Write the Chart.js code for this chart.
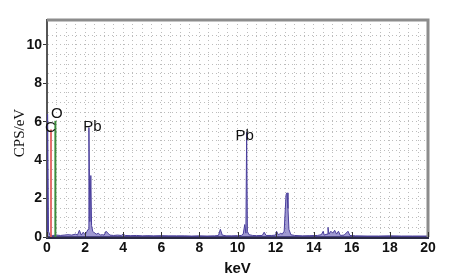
<!DOCTYPE html>
<html>
<head>
<meta charset="utf-8">
<script src="https://cdn.jsdelivr.net/npm/chart.js@4.4.1/dist/chart.umd.min.js"></script>
<style>
  html, body { margin: 0; padding: 0; background: #fff; }
  #wrap { width: 468px; height: 278px; }
</style>
</head>
<body>
<div id="wrap"><canvas id="spectrum" width="468" height="278"></canvas></div>
<script>
// EDS spectrum, keV vs CPS/eV
const energy = [0, 0.03, 0.08, 0.15, 0.3, 0.5, 0.7, 0.9, 1.1, 1.3, 1.5, 1.6, 1.7, 1.8, 1.9, 2.0, 2.1, 2.16, 2.2, 2.25, 2.3, 2.34, 2.4, 2.5, 2.6, 2.7, 2.8, 2.9, 3.0, 3.1, 3.2, 3.3, 3.5, 3.7, 3.9, 4.0, 4.1, 4.4, 4.7, 5.0, 5.3, 5.6, 6.0, 6.4, 6.8, 7.2, 7.6, 8.0, 8.4, 8.8, 9.0, 9.1, 9.2, 9.4, 9.7, 10.0, 10.2, 10.3, 10.38, 10.44, 10.48, 10.52, 10.6, 10.8, 11.0, 11.3, 11.4, 11.5, 11.8, 12.0, 12.05, 12.15, 12.25, 12.35, 12.45, 12.5, 12.55, 12.6, 12.65, 12.7, 12.8, 13.0, 13.4, 13.8, 14.2, 14.4, 14.5, 14.55, 14.7, 14.75, 14.8, 14.9, 15.0, 15.1, 15.2, 15.3, 15.4, 15.6, 15.8, 15.9, 16.2, 16.8, 17.4, 18.0, 18.6, 19.2, 20];
const counts = [0, 6.4, 0.3, 0.1, 0.08, 0.1, 0.08, 0.1, 0.12, 0.1, 0.15, 0.1, 0.35, 0.1, 0.25, 0.12, 0.3, 0.4, 5.7, 0.8, 3.2, 0.6, 0.3, 0.2, 0.15, 0.2, 0.1, 0.12, 0.1, 0.3, 0.2, 0.1, 0.08, 0.1, 0.08, 0.15, 0.08, 0.07, 0.08, 0.06, 0.07, 0.06, 0.07, 0.06, 0.06, 0.06, 0.05, 0.06, 0.05, 0.06, 0.08, 0.4, 0.1, 0.06, 0.06, 0.07, 0.08, 0.15, 0.65, 0.2, 5.45, 0.3, 0.12, 0.08, 0.07, 0.08, 0.25, 0.08, 0.08, 0.1, 0.3, 0.1, 0.2, 0.15, 0.3, 1.3, 2.2, 2.3, 1.5, 0.4, 0.12, 0.08, 0.06, 0.07, 0.08, 0.12, 0.3, 0.1, 0.15, 0.5, 0.15, 0.3, 0.2, 0.35, 0.15, 0.3, 0.08, 0.1, 0.3, 0.08, 0.06, 0.05, 0.05, 0.06, 0.05, 0.05, 0.05];

// element marker lines (C, O)
const markerNames = ['C', 'O'];
const markerEnergy = [0.21, 0.44];
const markerHeight = [5.6, 6.05];
const markerColors = ['rgba(225,85,85,0.85)', '#3d8c3d'];

// peak labels
const peakLabels = ['C', 'O', 'Pb', 'Pb'];
const peakLabelX = [0.18, 0.52, 2.38, 10.38];
const peakLabelY = [5.66, 6.39, 5.74, 5.25];

const xTicks = [0, 2, 4, 6, 8, 10, 12, 14, 16, 18, 20];
const yTicks = [0, 2, 4, 6, 8, 10];

const tickFont = '"Liberation Sans Narrow", "Liberation Sans", Arial, sans-serif';

const frameAndLabels = {
    id: 'frameAndLabels',
    afterDraw(chart) {
        const ctx = chart.ctx;
        const area = chart.chartArea;
        const x = chart.scales.x, y = chart.scales.y;
        ctx.save();
        // top and right frame
        ctx.strokeStyle = '#8c8c8c';
        ctx.lineWidth = 3;
        ctx.beginPath();
        ctx.moveTo(area.left, area.top);
        ctx.lineTo(area.right, area.top);
        ctx.lineTo(area.right, area.bottom);
        ctx.stroke();
        // inward x ticks
        ctx.strokeStyle = '#333';
        ctx.lineWidth = 1;
        xTicks.forEach(v => {
            const px = Math.round(x.getPixelForValue(v)) + 0.5;
            ctx.beginPath();
            ctx.moveTo(px, area.bottom);
            ctx.lineTo(px, area.bottom - 5);
            ctx.stroke();
        });
        // peak labels
        ctx.fillStyle = '#111';
        ctx.font = '15px ' + tickFont;
        ctx.textAlign = 'center';
        ctx.textBaseline = 'middle';
        peakLabels.forEach((t, i) => {
            ctx.fillText(t, x.getPixelForValue(peakLabelX[i]), y.getPixelForValue(peakLabelY[i]));
        });
        // y axis title
        ctx.font = '15px "Liberation Serif", "Times New Roman", serif';
        ctx.translate(20, 133);
        ctx.rotate(-Math.PI / 2);
        ctx.fillText('CPS/eV', 0, 0);
        ctx.restore();
    }
};

const datasets = [{
    data: energy.map((e, i) => ({ x: e, y: counts[i] })),
    borderColor: '#4a3f9c',
    borderWidth: 1,
    backgroundColor: 'rgba(95,85,180,0.6)',
    fill: 'origin',
    pointRadius: 0,
    tension: 0,
    order: 2
}];
markerNames.forEach((name, i) => {
    datasets.push({
        label: name,
        data: [{ x: markerEnergy[i], y: 0 }, { x: markerEnergy[i], y: markerHeight[i] }],
        borderColor: markerColors[i],
        borderWidth: 2,
        pointRadius: 0,
        fill: false,
        order: 1
    });
});

new Chart(document.getElementById('spectrum'), {
    type: 'line',
    data: { datasets: datasets },
    options: {
        responsive: false,
        animation: false,
        layout: { padding: { top: 20, right: 40, left: 0, bottom: 0 } },
        plugins: { legend: { display: false }, tooltip: { enabled: false } },
        scales: {
            x: {
                type: 'linear',
                min: 0,
                max: 20,
                afterFit(scale) { scale.height = 41; },
                ticks: {
                    stepSize: 0.5,
                    autoSkip: false,
                    maxRotation: 0,
                    padding: 3,
                    color: '#111',
                    font: { family: tickFont, size: 14, weight: 'bold' },
                    callback: v => xTicks.includes(v) ? v : ''
                },
                grid: {
                    color: '#bcbcbc',
                    drawTicks: false
                },
                border: { color: '#2b2b45', width: 3, dash: [1, 3] },
                title: {
                    display: true,
                    text: 'keV',
                    color: '#111',
                    padding: { top: 2, bottom: 0 },
                    font: { family: tickFont, size: 15, weight: 'bold' }
                }
            },
            y: {
                min: 0,
                max: 11.3,
                afterFit(scale) { scale.width = 47; },
                ticks: {
                    stepSize: 0.5,
                    autoSkip: false,
                    padding: 1,
                    color: '#111',
                    font: { family: tickFont, size: 14, weight: 'bold' },
                    callback: v => yTicks.includes(v) ? v : ''
                },
                grid: {
                    color: '#bcbcbc',
                    tickLength: 4,
                    tickColor: c => (c.tick && yTicks.includes(c.tick.value)) ? '#333' : 'rgba(0,0,0,0)'
                },
                border: { color: '#555', width: 2, dash: [1, 3] }
            }
        }
    },
    plugins: [frameAndLabels]
});
</script>
</body>
</html>
